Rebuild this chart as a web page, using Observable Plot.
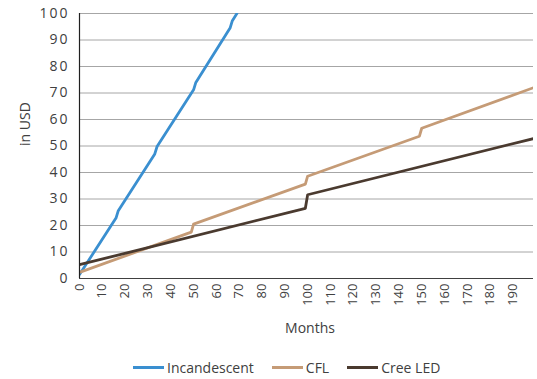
<!DOCTYPE html>
<html>
<head>
<meta charset="utf-8">
<script src="https://cdn.jsdelivr.net/npm/d3@7"></script>
<script src="https://cdn.jsdelivr.net/npm/@observablehq/plot@0.6"></script>
<style>
  html, body { margin: 0; padding: 0; background: #fff; }
  #wrap { position: relative; width: 537px; height: 379px; font-family: "Open Sans", sans-serif; color: #404040; }
  #chart svg { display: block; }
  #chart g[aria-label="y-axis tick label"] text { letter-spacing: 2px; }
  #xtitle { position: absolute; left: 0; width: 620px; top: 318px; text-align: center; font-size: 14px; }
  #legend { position: absolute; left: 133px; top: 358px; display: flex; align-items: center; font-size: 14px; }
  .item { display: flex; align-items: center; margin-right: 18px; }
  .swatch { width: 31px; height: 3px; margin-right: 3px; }
</style>
</head>
<body>
<div id="wrap">
  <div id="chart"></div>
  <div id="xtitle">Months</div>
  <div id="legend"></div>
</div>
<script>
// Cumulative cost of ownership (USD) by month; vertices of each line,
// with the one-month jumps where a bulb is bought again.
const incMonths = [0, 16, 17, 33, 34, 50, 51, 66, 67, 69];
const incCost   = [1.5, 22.8, 25.6, 47.0, 49.8, 71.2, 74.0, 94.5, 97.3, 100];

const cflMonths = [0, 49, 50, 99, 100, 149, 150, 199];
const cflCost   = [2.3, 17.5, 20.5, 35.6, 38.6, 53.7, 56.7, 72.0];

const ledMonths = [0, 99, 100, 199];
const ledCost   = [5.2, 26.5, 31.6, 52.8];

const seriesNames  = ["Incandescent", "CFL", "Cree LED"];
const seriesColors = ["#3a8fd0", "#c59b76", "#4a3a2f"];

const xTicks = [0, 10, 20, 30, 40, 50, 60, 70, 80, 90, 100, 110, 120, 130, 140, 150, 160, 170, 180, 190];
const yTicks = [0, 10, 20, 30, 40, 50, 60, 70, 80, 90, 100];

const rows = [
  ...incMonths.map((m, i) => ({series: seriesNames[0], month: m, cost: incCost[i]})),
  ...cflMonths.map((m, i) => ({series: seriesNames[1], month: m, cost: cflCost[i]})),
  ...ledMonths.map((m, i) => ({series: seriesNames[2], month: m, cost: ledCost[i]}))
];

const chart = Plot.plot({
  width: 537,
  height: 312,
  marginTop: 13,
  marginLeft: 79,
  marginRight: 4,
  marginBottom: 34,
  style: {fontFamily: "Open Sans, sans-serif", fontSize: "14px", color: "#404040", background: "#fff"},
  x: {domain: [0, 199]},
  y: {domain: [0, 100]},
  color: {domain: seriesNames, range: seriesColors},
  marks: [
    Plot.gridY(yTicks.filter(d => d > 0), {stroke: "#a6a6a6", strokeOpacity: 1, strokeWidth: 1}),
    Plot.axisY(yTicks, {tickSize: 0, tickPadding: 10, label: null, fontSize: 14}),
    Plot.axisX(xTicks, {tickSize: 0, tickPadding: 5, tickRotate: -90, label: null, fontSize: 13}),
    Plot.text(["in USD"], {frameAnchor: "left", dx: -54, rotate: -90, fontSize: 14, fill: "#404040"}),
    Plot.line(rows, {x: "month", y: "cost", z: "series", stroke: "series", strokeWidth: 2.8, strokeLinejoin: "round", clip: true}),
    Plot.ruleY([0], {stroke: "#404040", strokeWidth: 1.2}),
    Plot.ruleX([0], {stroke: "#202020", strokeWidth: 1.2})
  ]
});
document.getElementById("chart").appendChild(chart);

const legend = document.getElementById("legend");
seriesNames.forEach((name, i) => {
  const item = document.createElement("div");
  item.className = "item";
  const sw = document.createElement("span");
  sw.className = "swatch";
  sw.style.background = seriesColors[i];
  const lab = document.createElement("span");
  lab.textContent = name;
  item.append(sw, lab);
  legend.appendChild(item);
});
</script>
</body>
</html>
